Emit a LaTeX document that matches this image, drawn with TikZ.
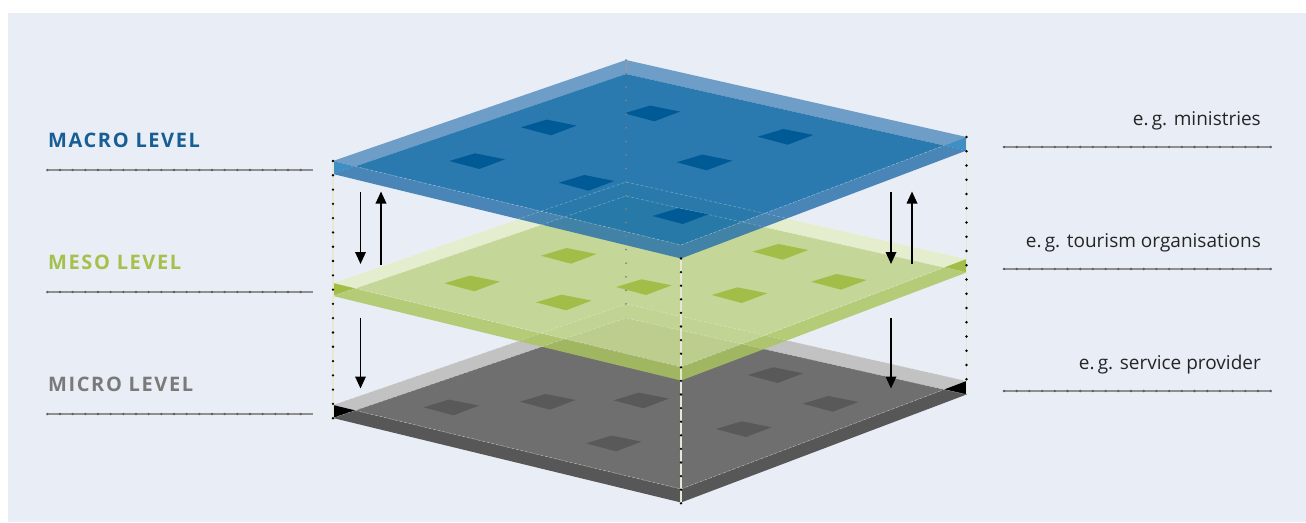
\documentclass[tikz,border=0pt]{standalone}
\usepackage{fontspec}
\setmainfont{Open Sans}
\newfontfamily\lblfont[LetterSpace=8]{Open Sans}
\usetikzlibrary{arrows.meta}
\definecolor{bg}{HTML}{E9EDF6}
\definecolor{macroBack}{HTML}{6E9DC8}
\definecolor{macroMain}{HTML}{1A71A9}
\definecolor{macroFront}{HTML}{2971AB}
\definecolor{macroTri}{HTML}{3E8FC4}
\definecolor{macroSq}{HTML}{005A96}
\definecolor{mesoBack}{HTML}{E4EDCE}
\definecolor{mesoMain}{HTML}{C3D690}
\definecolor{mesoFront}{HTML}{AAC55E}
\definecolor{mesoTri}{HTML}{A3BE48}
\definecolor{mesoSq}{HTML}{A3BE48}
\definecolor{microBack}{HTML}{C2C2C2}
\definecolor{microMain}{HTML}{6F6F6F}
\definecolor{microFront}{HTML}{575757}
\definecolor{microTri}{HTML}{000000}
\definecolor{microSq}{HTML}{595959}
\definecolor{macroTxt}{HTML}{165E94}
\definecolor{mesoTxt}{HTML}{A5C04B}
\definecolor{microTxt}{HTML}{7A7A7A}
\definecolor{ruleCol}{HTML}{8F8F8F}
\definecolor{tickCol}{HTML}{5E5E5E}
\definecolor{vline}{HTML}{E6E8D2}
\tikzset{
  edge/.style={white, opacity=0.35, line width=0.6pt, dash pattern=on 3pt off 2pt},
  hidden/.style={white, opacity=0.3, line width=0.6pt, dash pattern=on 3pt off 2pt},
  arr/.style={line width=1.8pt, -{Triangle[width=10.5pt,length=12pt]}},
  rulebase/.style={ruleCol, line width=1.2pt},
  ruleticks/.style={tickCol, line width=2.6pt, line cap=round, dash pattern=on 0pt off 12.67pt},
  vthin/.style={vline, line width=1.3pt},
  vdots/.style={black, line width=2.6pt, line cap=round},
  bdots/.style={black!45!bg, line width=2pt, line cap=round},
  lbl/.style={font=\lblfont\bfseries\fontsize{20}{24}\selectfont, inner sep=0pt},
  rlbl/.style={font=\fontsize{19}{22}\selectfont, text=black!85, inner sep=0pt, anchor=base east},
}
\newcommand\drawslab[7]{%
\begin{scope}[shift={(0,#1)}]
\coordinate (Lt) at (333,161); \coordinate (Bt) at (626,60);
\coordinate (Rt) at (966.5,137); \coordinate (Ft) at (681,245);
\coordinate (Lb) at (333,174); \coordinate (Bb) at (626,74);
\coordinate (Rb) at (966.5,150.5); \coordinate (Fb) at (681,258.5);
\coordinate (Li) at (355.3,166.4); \coordinate (Ri) at (944.1,145.5);
\fill[#2] (Lt)--(Bt)--(Rt)--(Ri)--(Bb)--(Li)--cycle;
\fill[#5] (Lt)--(Li)--(Lb)--cycle;
\fill[#5] (Rt)--(Ri)--(Rb)--cycle;
\fill[#3,opacity=#6] (Li)--(Ft)--(Ri)--(Rb)--(Fb)--(Lb)--cycle;
\fill[#4,opacity=#7] (Li)--(Bb)--(Ri)--(Ft)--cycle;
\draw[edge] (Li)--(Ft)--(Ri);
\end{scope}}
\newcommand\hiddenback[1]{%
\begin{scope}[shift={(0,#1)}]
\draw[hidden] (333,161)--(626,60)--(966.5,137);
\draw[hidden] (333,174)--(626,74)--(966.5,150.5);
\end{scope}}
\newcommand\sq[3]{%
\begin{scope}[shift={(#1,#2)}]
\fill[#3] (-27.3,0)--(-1.7,-7.7)--(28.3,-1.7)--(2.7,8)--cycle;
\end{scope}}
\begin{document}
\begin{tikzpicture}[x=1pt,y=-1pt]
\useasboundingbox (0,0) rectangle (1306,522);
\fill[white] (0,0) rectangle (1306,522);
\fill[bg] (8,13) rectangle (1306,522);

% micro slab
\drawslab{244}{microBack}{microFront}{microMain}{microTri}{1}{1}
\sq{775}{375}{microSq}
\sq{450.7}{407.3}{microSq}
\sq{547.3}{401.7}{microSq}
\sq{640.7}{400.3}{microSq}
\sq{830}{403.7}{microSq}
\sq{743.3}{429}{microSq}
\sq{613.3}{443.3}{microSq}

% meso slab
\drawslab{122}{mesoBack}{mesoFront}{mesoMain}{mesoTri}{0.83}{0.92}
\hiddenback{244}
\sq{568.3}{255.7}{mesoSq}
\sq{780}{251.7}{mesoSq}
\sq{471.7}{283.3}{mesoSq}
\sq{643.3}{287}{mesoSq}
\sq{838.3}{281.7}{mesoSq}
\sq{563.3}{302.3}{mesoSq}
\sq{739}{295}{mesoSq}

% macro slab
\drawslab{0}{macroBack}{macroFront}{macroMain}{macroTri}{0.83}{0.92}
\hiddenback{122}
\sq{548.3}{127.3}{macroSq}
\sq{651.7}{113.3}{macroSq}
\sq{785}{136.7}{macroSq}
\sq{476.7}{161}{macroSq}
\sq{704}{162.3}{macroSq}
\sq{586}{182.7}{macroSq}
\sq{680}{216}{macroSq}

% vertical dotted guides
\coordinate (backTop) at (626,60);  \coordinate (backBot) at (626,304);
\coordinate (leftTop) at (333,161); \coordinate (leftBot) at (333,418.3);
\coordinate (rightTop) at (966.5,137); \coordinate (rightBot) at (966.5,393.5);
\coordinate (frontTop) at (681,258.5); \coordinate (frontBot) at (681,503.3);
\draw[black!35!bg, line width=0.8pt] (backTop) -- (626,74);
\draw[bdots, dash pattern=on 0pt off 13.55pt] (backTop) -- (backBot);
\draw[vthin] (leftTop) -- (leftBot);
\draw[vdots, dash pattern=on 0pt off 14.29pt] (leftTop) -- (leftBot);
\draw[vthin] (rightTop) -- (rightBot);
\draw[vdots, dash pattern=on 0pt off 14.25pt] (rightTop) -- (rightBot);
\draw[vthin] (frontTop) -- (frontBot);
\draw[vdots, dash pattern=on 0pt off 13.6pt] (frontTop) -- (frontBot);

% arrows
\coordinate (a1s) at (360.5,192);   \coordinate (a1e) at (360.5,264);
\coordinate (a2s) at (381,264.5);   \coordinate (a2e) at (381,191.5);
\coordinate (a3s) at (360.5,318);   \coordinate (a3e) at (360.5,388.5);
\coordinate (a4s) at (891,192);     \coordinate (a4e) at (891,264);
\coordinate (a5s) at (912,264);     \coordinate (a5e) at (912,191.5);
\coordinate (a6s) at (891,318);     \coordinate (a6e) at (891,388.5);
\draw[arr] (a1s) -- (a1e);
\draw[arr] (a2s) -- (a2e);
\draw[arr] (a3s) -- (a3e);
\draw[arr] (a4s) -- (a4e);
\draw[arr] (a5s) -- (a5e);
\draw[arr] (a6s) -- (a6e);

% left rules
\foreach \yy/\nm in {170/lr1,292/lr2,414/lr3}{
  \coordinate (\nm a) at (47.3,\yy); \coordinate (\nm b) at (313.3,\yy);
  \draw[rulebase] (\nm a) -- (\nm b);
  \draw[ruleticks] (\nm a) -- (\nm b);
}
% right rules
\foreach \yy/\nm in {147/rr1,269/rr2,391/rr3}{
  \coordinate (\nm a) at (1004,\yy); \coordinate (\nm b) at (1270.7,\yy);
  \draw[rulebase] (\nm a) -- (\nm b);
  \draw[ruleticks, dash pattern=on 0pt off 12.7pt] (\nm a) -- (\nm b);
}

% labels
\node[lbl, text=macroTxt, anchor=base west] (macro) at (48,147.5) {MACRO LEVEL};
\node[lbl, text=mesoTxt, anchor=base west] (meso) at (48,269.5) {MESO LEVEL};
\node[lbl, text=microTxt, anchor=base west] (micro) at (48,391.5) {MICRO LEVEL};
\node[rlbl] (ex1) at (1261,125.5) {e.\,g. ministries};
\node[rlbl] (ex2) at (1261,247.5) {e.\,g. tourism organisations};
\node[rlbl] (ex3) at (1261,369.5) {e.\,g. service provider};
\end{tikzpicture}
\end{document}
